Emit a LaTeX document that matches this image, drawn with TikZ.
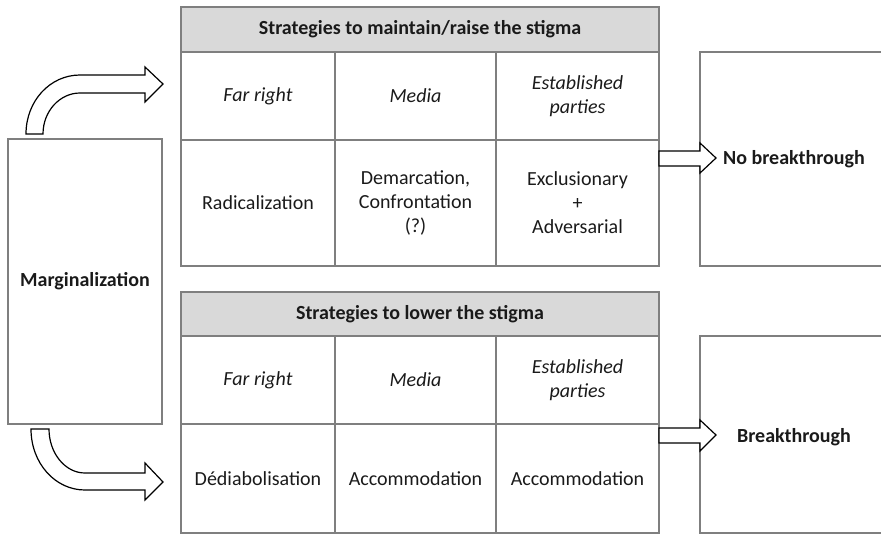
\documentclass[tikz,border=0pt]{standalone}
\usepackage{fontspec}
\setmainfont{Carlito}
\begin{document}
\begin{tikzpicture}[x=1pt,y=-1pt]
\definecolor{bordergray}{HTML}{7F7F7F}
\definecolor{hdrgray}{HTML}{D9D9D9}
\definecolor{textcol}{HTML}{1A1A1A}
\tikzset{
  cellbox/.style={draw=bordergray, line width=1.3pt, inner sep=0pt, outer sep=0pt,
    anchor=north west, align=center, text=textcol,
    font=\fontsize{20}{24}\selectfont},
  hdrbox/.style={cellbox, fill=hdrgray, font=\fontsize{20}{24}\selectfont\bfseries},
  itcell/.style={cellbox, font=\fontsize{20}{24}\selectfont\itshape},
  blockarrow/.style={draw=black, fill=white, line width=1.2pt, line join=miter},
}
\useasboundingbox (0,0) rectangle (881,536);

% Marginalization
\node[cellbox, font=\fontsize{20}{24}\selectfont\bfseries, minimum width=154pt, minimum height=285pt] (marg) at (8,139) {Marginalization};

% Top table
\node[hdrbox, minimum width=478pt, minimum height=45pt] (hdrA) at (181,7) {Strategies to maintain/raise the stigma};
\node[itcell, minimum width=154pt, minimum height=88pt] (a11) at (181,52) {Far right};
\node[itcell, minimum width=161pt, minimum height=88pt] (a12) at (335,52) {Media};
\node[itcell, minimum width=163pt, minimum height=88pt] (a13) at (496,52) {Established\\parties};
\node[cellbox, minimum width=154pt, minimum height=126pt] (a21) at (181,140) {Radicalization};
\node[cellbox, minimum width=161pt, minimum height=126pt] (a22) at (335,140) {Demarcation,\\Confrontation\\(?)};
\node[cellbox, minimum width=163pt, minimum height=126pt] (a23) at (496,140) {Exclusionary\\+\\Adversarial};

% Bottom table
\node[hdrbox, minimum width=478pt, minimum height=44pt] (hdrB) at (181,292) {Strategies to lower the stigma};
\node[itcell, minimum width=154pt, minimum height=88pt] (b11) at (181,336) {Far right};
\node[itcell, minimum width=161pt, minimum height=88pt] (b12) at (335,336) {Media};
\node[itcell, minimum width=163pt, minimum height=88pt] (b13) at (496,336) {Established\\parties};
\node[cellbox, minimum width=154pt, minimum height=109pt] (b21) at (181,424) {Dédiabolisation};
\node[cellbox, minimum width=161pt, minimum height=109pt] (b22) at (335,424) {Accommodation};
\node[cellbox, minimum width=163pt, minimum height=109pt] (b23) at (496,424) {Accommodation};

% Outcome boxes (cut by the right edge)
\node[cellbox, minimum width=190pt, minimum height=214pt] (outA) at (700,52) {};
\node[cellbox, minimum width=190pt, minimum height=197pt] (outB) at (700,336) {};
\node[font=\fontsize{20}{24}\selectfont\bfseries, text=textcol] (nbt) at (794,159) {No breakthrough};
\node[font=\fontsize{20}{24}\selectfont\bfseries, text=textcol] (bt) at (794,437) {Breakthrough};

% Curved block arrows
\draw[blockarrow] (26,134) .. controls (26,101) and (50,75) .. (80,75) -- (145,75) -- (145,67)
  -- (163,84) -- (145,102) -- (145,93) -- (80,93) .. controls (60,93) and (43,111) .. (43,134) -- cycle;
\draw[blockarrow] (31,429) .. controls (31,463) and (55,490) .. (85,490) -- (145,490) -- (145,500)
  -- (163,482) -- (145,463) -- (145,473) -- (85,473) .. controls (65,473) and (49,453) .. (49,429) -- cycle;

% Straight block arrows
\draw[blockarrow] (659,151) -- (700,151) -- (700,143) -- (716,158) -- (700,173) -- (700,166) -- (659,166) -- cycle;
\draw[blockarrow] (659,428) -- (700,428) -- (700,420) -- (716,435) -- (700,451) -- (700,443) -- (659,443) -- cycle;
\end{tikzpicture}
\end{document}
